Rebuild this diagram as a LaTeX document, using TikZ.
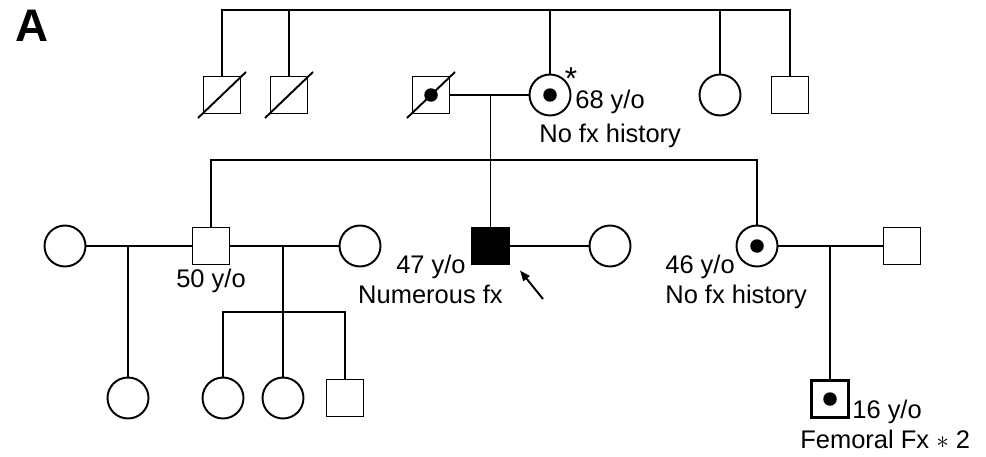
\documentclass[tikz,border=0pt]{standalone}
\usepackage{fontspec}
\setmainfont{Liberation Sans}
\usetikzlibrary{arrows.meta,calc}

\tikzset{
  male/.style={draw, line width=1.1pt, minimum size=0.74cm, inner sep=0pt},
  female/.style={male, circle, minimum size=0.82cm},
  affected/.style={fill=black},
  carrier/.style={path picture={\fill (path picture bounding box.center) circle (0.135cm);}},
  lbl/.style={font=\fontsize{14.5}{17}\selectfont, inner sep=0pt},
  link/.style={line width=1.1pt},
}

\begin{document}
\begin{tikzpicture}[x=0.02cm, y=-0.02cm]
\useasboundingbox (0,0) rectangle (986,456);
\node[font=\fontsize{26}{26}\selectfont\bfseries, anchor=north west, inner sep=0pt] (panel) at (15,10) {A};

% Generation I
\node[male] (ga) at (222,95) {};
\node[male] (gb) at (289,95) {};
\node[male, carrier] (gf) at (431,95) {};
\node[female, carrier] (gm) at (550,95) {};
\node[female] (gc) at (720,95) {};
\node[male] (gd) at (790,95) {};
\coordinate (top) at (0,10);
\draw[link] (ga.north) |- (top -| gd.north) -- (gd.north);
\foreach \n in {gb,gm,gc} \draw[link] (\n.north) -- (\n.north |- top);
% deceased
\foreach \n in {ga,gb,gf} \draw[link] ([shift={(-24,23)}]\n.center) -- ([shift={(24,-23)}]\n.center);
\draw[link] (gf) -- (gm);
\coordinate (m1) at ($(gf)!0.5!(gm)$);
\node[lbl, font=\fontsize{18}{20}\selectfont, anchor=base] (star) at (571,90) {*};
\node[lbl, anchor=base west] (l68) at (575,109) {68 y/o};
\node[lbl, anchor=base west] (lgm) at (539,142) {No fx history};

% Generation II
\coordinate (sib1) at (0,160);
\node[female] (w1) at (65,246) {};
\node[male] (s1) at (211,246) {};
\node[female] (w2) at (360,246) {};
\node[male, affected] (p) at (m1 |- 0,246) {};
\node[female] (pw) at (610,246) {};
\node[female, carrier] (c) at (757,246) {};
\node[male] (ch) at (902,246) {};
\draw[link] (m1) -- (m1 |- sib1);
\draw[link] (s1.north) |- (sib1 -| c.north) -- (c.north);
\draw[link] (p.north) -- (p.north |- sib1);
\draw[link] (w1) -- (s1);
\draw[link] (s1) -- (w2);
\draw[link] (p) -- (pw);
\draw[link] (c) -- (ch);
\node[lbl, anchor=base] (l50) at (211,287) {50 y/o};
\node[lbl, anchor=base east] (l47) at (466,273) {47 y/o};
\node[lbl, anchor=base east] (lp) at (503,303) {Numerous fx};
\coordinate (ptr) at (543,299);
\draw[link, -{Triangle[length=6pt,width=4.5pt]}] (ptr) -- ([shift={(10,5)}]p.south east);
\node[lbl, anchor=base west] (l46) at (665,273) {46 y/o};
\node[lbl, anchor=base west] (lc) at (665,303) {No fx history};

% Generation III
\coordinate (sib2) at (0,312);
\node[female] (k1) at (128,398) {};
\node[female] (k2) at (223,398) {};
\node[female] (k3) at (283,398) {};
\node[male] (k4) at (345,398) {};
\node[male, carrier, line width=1.5pt] (k5) at (830,399) {};
\draw[link] (k1.north) -- (k1.north |- w1);
\draw[link] (k3.north) -- (k3.north |- s1);
\draw[link] (k2.north) |- (sib2 -| k4.north) -- (k4.north);
\draw[link] (k5.north) -- (k5.north |- c);
\node[lbl, anchor=base west] (l16) at (852,418) {16 y/o};
\node[lbl, anchor=base west] (lk5) at (800,448) {Femoral Fx $*$ 2};
\end{tikzpicture}
\end{document}
